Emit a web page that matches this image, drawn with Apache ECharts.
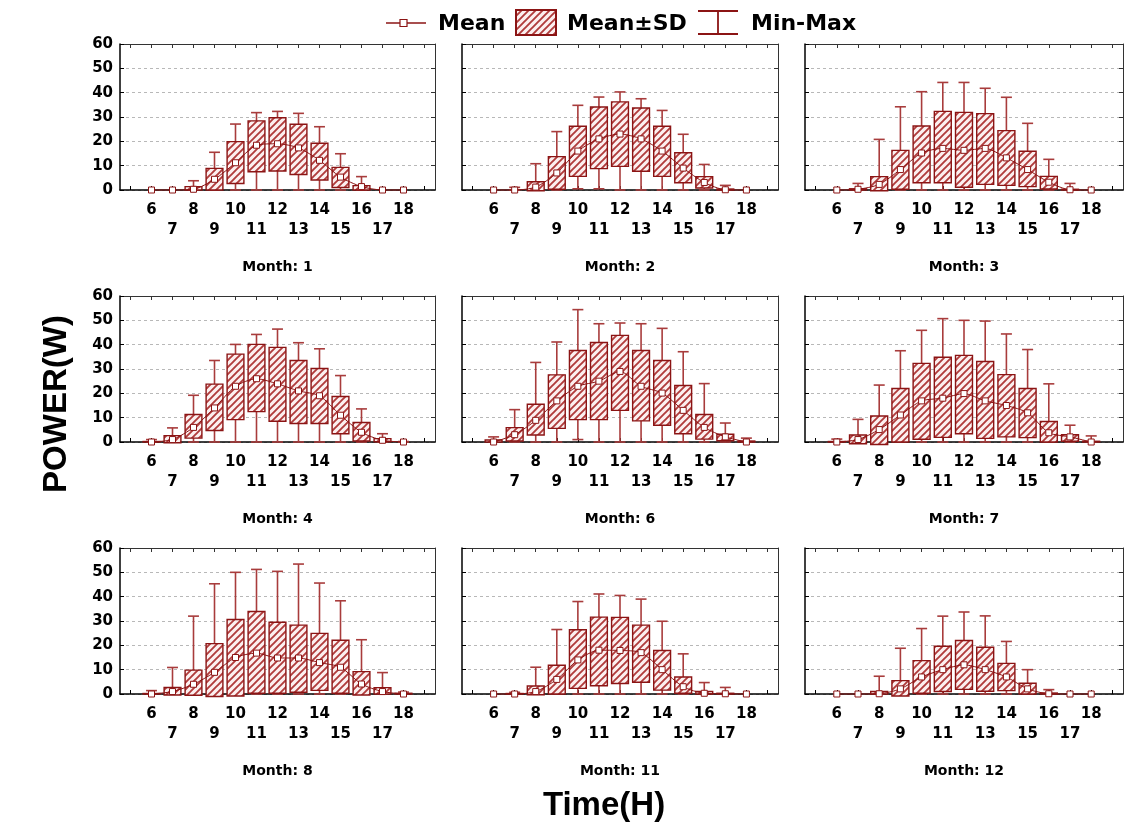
<!DOCTYPE html>
<html>
<head>
<meta charset="utf-8">
<script src="https://cdn.jsdelivr.net/npm/echarts@6/dist/echarts.min.js"></script>
<style>
html,body{margin:0;padding:0;background:#fff;}
#chart{width:1140px;height:828px;}
</style>
</head>
<body>
<div id="chart"></div>
<script>
// ---- Data ----
const xCats = ['5','6','7','8','9','10','11','12','13','14','15','16','17','18','19'];
const hours = [6,7,8,9,10,11,12,13,14,15,16,17,18];
const yTicks = [0,10,20,30,40,50,60];
const monthLabels = ['Month: 1','Month: 2','Month: 3','Month: 4','Month: 6','Month: 7','Month: 8','Month: 11','Month: 12'];

const m1Mean = [0,0,0.3,4.4,11.2,18.4,19.0,17.3,12.2,5.3,1.4,0,0];
const m1Lo   = [0,0,0,0,2.7,7.5,7.8,6.4,4.1,1.0,0,0,0];
const m1Hi   = [0,0,1.4,8.9,19.9,28.4,29.7,27.0,19.2,9.3,1.8,0,0];
const m1Max  = [0,0,3.8,15.5,27.1,31.8,32.3,31.5,26.0,14.9,5.5,0,0];
const m1Min  = [0,0,0,0,0,0,0,0,0,0,0,0,0];

const m2Mean = [0,0,1.2,7.0,16.0,21.0,23.0,21.0,16.0,9.0,3.1,0.1,0];
const m2Lo   = [0,0,-0.3,0.3,5.6,8.8,9.7,7.7,5.6,3.0,0.8,0,0];
const m2Hi   = [0,0,3.4,13.7,26.2,34.1,36.2,33.7,26.2,15.3,5.5,0.4,0];
const m2Max  = [0,1.1,10.8,24.0,34.8,38.2,40.3,37.5,32.7,22.9,10.5,1.9,0];
const m2Min  = [0,0,0,0,0.5,0.5,0,0,0,0,0,0,0];

const m3Mean = [0,0.3,2.3,8.4,15.2,17.1,16.3,17.1,13.2,8.4,3.2,0.1,0];
const m3Lo   = [0,0,-0.3,0.3,3.0,3.0,1.1,2.3,1.9,1.4,0.4,0,0];
const m3Hi   = [0,0.5,5.5,16.3,26.3,32.3,31.9,31.4,24.4,15.9,5.6,0.3,0];
const m3Max  = [0,2.7,20.8,34.2,40.4,44.2,44.2,41.8,38.1,27.4,12.6,2.7,0];
const m3Min  = [0,0,0,0,0,0,0,0,0,0,0,0,0];

const m4Mean = [0,1.0,6.0,14.0,22.9,26.0,23.9,21.0,19.0,11.0,4.0,0.7,0];
const m4Lo   = [0,-0.3,1.6,4.7,9.2,12.5,8.5,7.6,7.6,3.4,0.4,0.1,0];
const m4Hi   = [0.2,2.6,11.3,23.8,36.1,40.1,38.9,33.5,30.2,18.7,8.0,1.4,0];
const m4Max  = [1.0,5.8,19.2,33.5,40.1,44.2,46.4,40.8,38.3,27.3,13.6,3.4,0.2];
const m4Min  = [0,0,0,0,0,0,0,0,0,0,0,0,0];

const m6Mean = [0,3.0,8.9,16.9,22.9,25.0,29.0,22.9,20.1,13.0,6.0,2.1,0];
const m6Lo   = [0,0.4,2.9,5.6,9.2,9.2,13.0,8.7,6.9,3.4,1.2,0.5,0];
const m6Hi   = [0.8,5.9,15.5,27.6,37.6,40.9,43.8,37.6,33.5,23.2,11.3,3.2,0.4];
const m6Max  = [2.1,13.3,32.7,41.1,54.4,48.6,48.9,48.6,46.7,37.1,24.0,7.8,1.6];
const m6Min  = [0,0,0,0,1.0,0,0,0,0,0,0,0,0];

const m7Mean = [0,1.0,5.1,11.1,16.9,18.0,19.9,16.9,15.0,12.0,3.8,2.1,0];
const m7Lo   = [0,-0.7,-1.0,0,1.1,1.9,3.4,1.5,2.1,1.8,0,0.3,0];
const m7Hi   = [0.2,2.9,10.7,22.0,32.3,34.8,35.6,33.1,27.7,22.0,8.4,3.0,0.3];
const m7Max  = [1.2,9.3,23.4,37.5,45.9,50.7,50.0,49.7,44.4,38.0,23.9,6.9,2.5];
const m7Min  = [0,0,0,0,0,0,0,0,0,0,0,0,0];

const m8Mean = [0,1.0,4.0,8.9,15.0,16.8,14.8,14.8,12.9,11.0,4.1,1.0,0];
const m8Lo   = [0,-0.4,-0.5,-1.0,-0.8,0.3,0.3,0.7,1.5,0.3,-0.4,0,0];
const m8Hi   = [0.2,2.7,9.8,20.7,30.6,33.9,29.5,28.3,24.9,22.1,9.2,2.6,0.3];
const m8Max  = [1.4,10.9,32.0,45.3,50.0,51.2,50.4,53.4,45.6,38.3,22.3,8.8,0.8];
const m8Min  = [0,0,0,0,0,0,0,0,0,0,0,0,0];

const m11Mean = [0,0,1.0,6.0,14.0,18.0,17.9,17.0,10.0,3.0,0.3,0.1,0];
const m11Lo   = [0,0,-0.3,0,2.3,3.4,4.3,4.8,1.6,0.3,0,0,0];
const m11Hi   = [0,0.2,3.3,11.8,26.4,31.6,31.5,28.3,17.9,7.0,1.0,0.3,0];
const m11Max  = [0,0.7,11.0,26.5,38.0,41.1,40.5,39.0,29.9,16.5,4.7,2.7,0];
const m11Min  = [0,0,0,0,0,0,0,0,0,0,0,0,0];

const m12Mean = [0,0,0.1,2.1,7.0,10.0,12.0,10.0,7.0,2.1,0.1,0,0];
const m12Lo   = [0,0,0,-0.8,0.3,1.0,1.9,1.1,1.4,0,0,0,0];
const m12Hi   = [0,0,1.0,5.5,13.7,19.6,22.0,19.2,12.6,4.4,0.4,0,0];
const m12Max  = [0,0,7.3,18.8,26.9,32.0,33.7,32.1,21.6,10.0,1.8,0,0];
const m12Min  = [0,0,0,0,0,0,0,0,0,0,0,0,0];

const panels = [
  [m1Mean,m1Lo,m1Hi,m1Min,m1Max],
  [m2Mean,m2Lo,m2Hi,m2Min,m2Max],
  [m3Mean,m3Lo,m3Hi,m3Min,m3Max],
  [m4Mean,m4Lo,m4Hi,m4Min,m4Max],
  [m6Mean,m6Lo,m6Hi,m6Min,m6Max],
  [m7Mean,m7Lo,m7Hi,m7Min,m7Max],
  [m8Mean,m8Lo,m8Hi,m8Min,m8Max],
  [m11Mean,m11Lo,m11Hi,m11Min,m11Max],
  [m12Mean,m12Lo,m12Hi,m12Min,m12Max]
];

// ---- Styling ----
const RED = '#8b1414';
const WHISK = '#a83c3c';
const FONT = "'DejaVu Sans', Verdana, sans-serif";
const TITLE_FONT = "'Liberation Sans', Arial, sans-serif";

function makeHatch() {
  const s = 7;
  const c = document.createElement('canvas');
  c.width = s; c.height = s;
  const g = c.getContext('2d');
  g.fillStyle = '#fcf0f0';
  g.fillRect(0,0,s,s);
  g.strokeStyle = '#b03c3c';
  g.lineWidth = 1.9;
  g.beginPath();
  g.moveTo(0,s); g.lineTo(s,0);
  g.moveTo(-1,1); g.lineTo(1,-1);
  g.moveTo(s-1,s+1); g.lineTo(s+1,s-1);
  g.stroke();
  return c;
}
const hatch = { image: makeHatch(), repeat: 'repeat' };

const colLeft = [120, 462, 805];
const colWidth = [315, 316, 318];
const rowTop = [44, 296, 548];
const rowH = 146;

const grids = [], xAxes = [], yAxes = [], series = [], graphics = [];

function catIndex(h) { return xCats.indexOf(String(h)); }

function renderBox(params, api) {
  const x = api.value(0);
  const lo = api.value(1), hi = api.value(2), mn = api.value(3), mx = api.value(4);
  const pHi = api.coord([x, hi]);
  const pLo = api.coord([x, lo]);
  const pMin = api.coord([x, mn]);
  const pMax = api.coord([x, mx]);
  const band = api.size([1, 0])[0];
  const bw = band * 0.8;
  const cw = band * 0.52;
  const children = [];
  if (mx - mn > 0.05) {
    children.push({type:'line', shape:{x1:pMax[0], y1:pMax[1], x2:pMin[0], y2:pMin[1]}, style:{stroke:WHISK, lineWidth:1.6}});
    children.push({type:'line', shape:{x1:pMax[0]-cw/2, y1:pMax[1], x2:pMax[0]+cw/2, y2:pMax[1]}, style:{stroke:WHISK, lineWidth:1.6}});
    children.push({type:'line', shape:{x1:pMin[0]-cw/2, y1:pMin[1], x2:pMin[0]+cw/2, y2:pMin[1]}, style:{stroke:WHISK, lineWidth:1.6}});
  }
  if (hi - lo > 0.05) {
    children.push({type:'rect', shape:{x:pHi[0]-bw/2, y:pHi[1], width:bw, height:pLo[1]-pHi[1]},
      style:{fill:hatch, stroke:RED, lineWidth:1.4}});
  }
  return {type:'group', children};
}

for (let i = 0; i < 9; i++) {
  const r = Math.floor(i / 3), c = i % 3;
  grids.push({left: colLeft[c], top: rowTop[r], width: colWidth[c], height: rowH, show: false, containLabel: false});
  const [mean, lo, hi, mn, mx] = panels[i];
  // bottom x axis
  xAxes.push({
    type:'category', gridIndex:i, data:xCats, position:'bottom', boundaryGap:true,
    axisLine:{show:true, onZero:false, lineStyle:{color:'#000', width:1.5}},
    axisTick:{show:true, inside:true, alignWithLabel:true, interval:0, length:4, lineStyle:{color:'#000'}},
    axisLabel:{show:true, interval:0, margin:10, color:'#000', fontSize:15, fontWeight:'bold', fontFamily:FONT, lineHeight:20,
      formatter:function(v){ const n = +v; if (n < 6 || n > 18) return ''; return n % 2 === 0 ? String(n) : '\n' + n; }},
    splitLine:{show:false}
  });
  // top x axis (frame + ticks)
  xAxes.push({
    type:'category', gridIndex:i, data:xCats, position:'top', boundaryGap:true,
    axisLine:{show:true, onZero:false, lineStyle:{color:'#333', width:1}},
    axisTick:{show:true, inside:true, alignWithLabel:true, interval:0, length:4, lineStyle:{color:'#333'}},
    axisLabel:{show:false}, splitLine:{show:false}
  });
  yAxes.push({
    type:'value', gridIndex:i, min:0, max:60, interval:10, position:'left',
    axisLine:{show:true, onZero:false, lineStyle:{color:'#000', width:1.5}},
    axisTick:{show:true, inside:true, length:4, lineStyle:{color:'#000'}},
    axisLabel:{show:c === 0, margin:7, color:'#000', fontSize:15, fontWeight:'bold', fontFamily:FONT,
      formatter:function(v){ return yTicks.indexOf(v) >= 0 ? String(v) : ''; }},
    splitLine:{show:true, lineStyle:{color:'#b8b8b8', type:[3,3], width:1}}
  });
  yAxes.push({
    type:'value', gridIndex:i, min:0, max:60, interval:10, position:'right',
    axisLine:{show:true, onZero:false, lineStyle:{color:'#333', width:1}},
    axisTick:{show:true, inside:true, length:4, lineStyle:{color:'#333'}},
    axisLabel:{show:false}, splitLine:{show:false}
  });

  const boxData = hours.map((h, k) => [catIndex(h), lo[k], hi[k], mn[k], mx[k]]);
  series.push({
    type:'custom', xAxisIndex:2*i, yAxisIndex:2*i, renderItem:renderBox, data:boxData,
    encode:{x:0, y:[1,2,3,4]}, clip:false, z:2, silent:true
  });
  series.push({
    type:'line', xAxisIndex:2*i, yAxisIndex:2*i,
    data: hours.map((h, k) => [catIndex(h), mean[k]]),
    smooth:0.25, symbol:'rect', symbolSize:6, showAllSymbol:true, clip:false, z:5,
    lineStyle:{color:RED, width:1},
    itemStyle:{color:'#fff', borderColor:RED, borderWidth:1},
    silent:true, animation:false
  });

  graphics.push({
    type:'text', x: colLeft[c] + colWidth[c]/2, y: rowTop[r] + rowH + 77,
    style:{text: monthLabels[i], font:"bold 14px " + FONT, fill:'#000', textAlign:'center', textVerticalAlign:'middle'}
  });
}

// axis titles
graphics.push({type:'text', x:57, y:404, rotation:Math.PI/2,
  style:{text:'POWER(W)', font:"bold 33px " + TITLE_FONT, fill:'#000', textAlign:'center', textVerticalAlign:'middle'}});
graphics.push({type:'text', x:604, y:806,
  style:{text:'Time(H)', font:"bold 33px " + TITLE_FONT, fill:'#000', textAlign:'center', textVerticalAlign:'middle'}});

// legend
graphics.push({type:'line', shape:{x1:386, y1:23, x2:426, y2:23}, style:{stroke:RED, lineWidth:1.5}});
graphics.push({type:'rect', shape:{x:400, y:19.5, width:7, height:7}, style:{fill:'#fff', stroke:RED, lineWidth:1.2}});
graphics.push({type:'text', x:438, y:24, style:{text:'Mean', font:"bold 22px " + FONT, fill:'#000', textVerticalAlign:'middle'}});
graphics.push({type:'rect', shape:{x:516, y:10, width:40, height:25}, style:{fill:hatch, stroke:RED, lineWidth:2}});
graphics.push({type:'text', x:567, y:24, style:{text:'Mean±SD', font:"bold 22px " + FONT, fill:'#000', textVerticalAlign:'middle'}});
graphics.push({type:'line', shape:{x1:718, y1:11, x2:718, y2:34}, style:{stroke:RED, lineWidth:1.8}});
graphics.push({type:'line', shape:{x1:698, y1:11, x2:738, y2:11}, style:{stroke:RED, lineWidth:1.8}});
graphics.push({type:'line', shape:{x1:698, y1:34, x2:738, y2:34}, style:{stroke:RED, lineWidth:1.8}});
graphics.push({type:'text', x:751, y:24, style:{text:'Min-Max', font:"bold 22px " + FONT, fill:'#000', textVerticalAlign:'middle'}});

const chart = echarts.init(document.getElementById('chart'), null, {renderer:'canvas'});
chart.setOption({
  backgroundColor:'#fff',
  animation:false,
  grid:grids, xAxis:xAxes, yAxis:yAxes, series:series,
  graphic:{elements:graphics}
});
</script>
</body>
</html>
